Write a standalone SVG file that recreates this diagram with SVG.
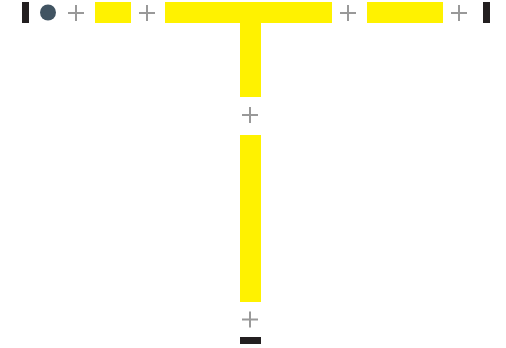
<svg xmlns="http://www.w3.org/2000/svg" width="506" height="348" viewBox="0 0 506 348">
<style>
.y{fill:#fff200}
.d{fill:#231f20}
.p{stroke:#999;stroke-width:2;fill:none}
</style>
<defs>
<path id="plus" class="p" d="M-8,0H8M0,-8V8"/>
</defs>
<rect width="506" height="348" fill="#fff"/>
<g id="start"><rect class="d" x="22" y="2" width="7" height="21"/></g>
<g id="dot"><circle cx="48" cy="12.5" r="8" fill="#415462"/></g>
<g id="box1"><rect class="y" x="95" y="2" width="36" height="21"/></g>
<g id="box2"><rect class="y" x="165" y="2" width="167" height="21"/><rect class="y" x="240" y="23" width="21" height="74"/></g>
<g id="box3"><rect class="y" x="367" y="2" width="76" height="21"/></g>
<g id="box4"><rect class="y" x="240" y="135" width="21" height="167"/></g>
<g id="end1"><rect class="d" x="483" y="2" width="7" height="21"/></g>
<g id="end2"><rect class="d" x="240" y="337" width="21" height="7"/></g>
<g id="connectors">
<use href="#plus" x="76" y="13"/>
<use href="#plus" x="147" y="13"/>
<use href="#plus" x="348" y="13"/>
<use href="#plus" x="459" y="13"/>
<use href="#plus" x="250" y="115"/>
<use href="#plus" x="250" y="319.5"/>
</g>
</svg>
